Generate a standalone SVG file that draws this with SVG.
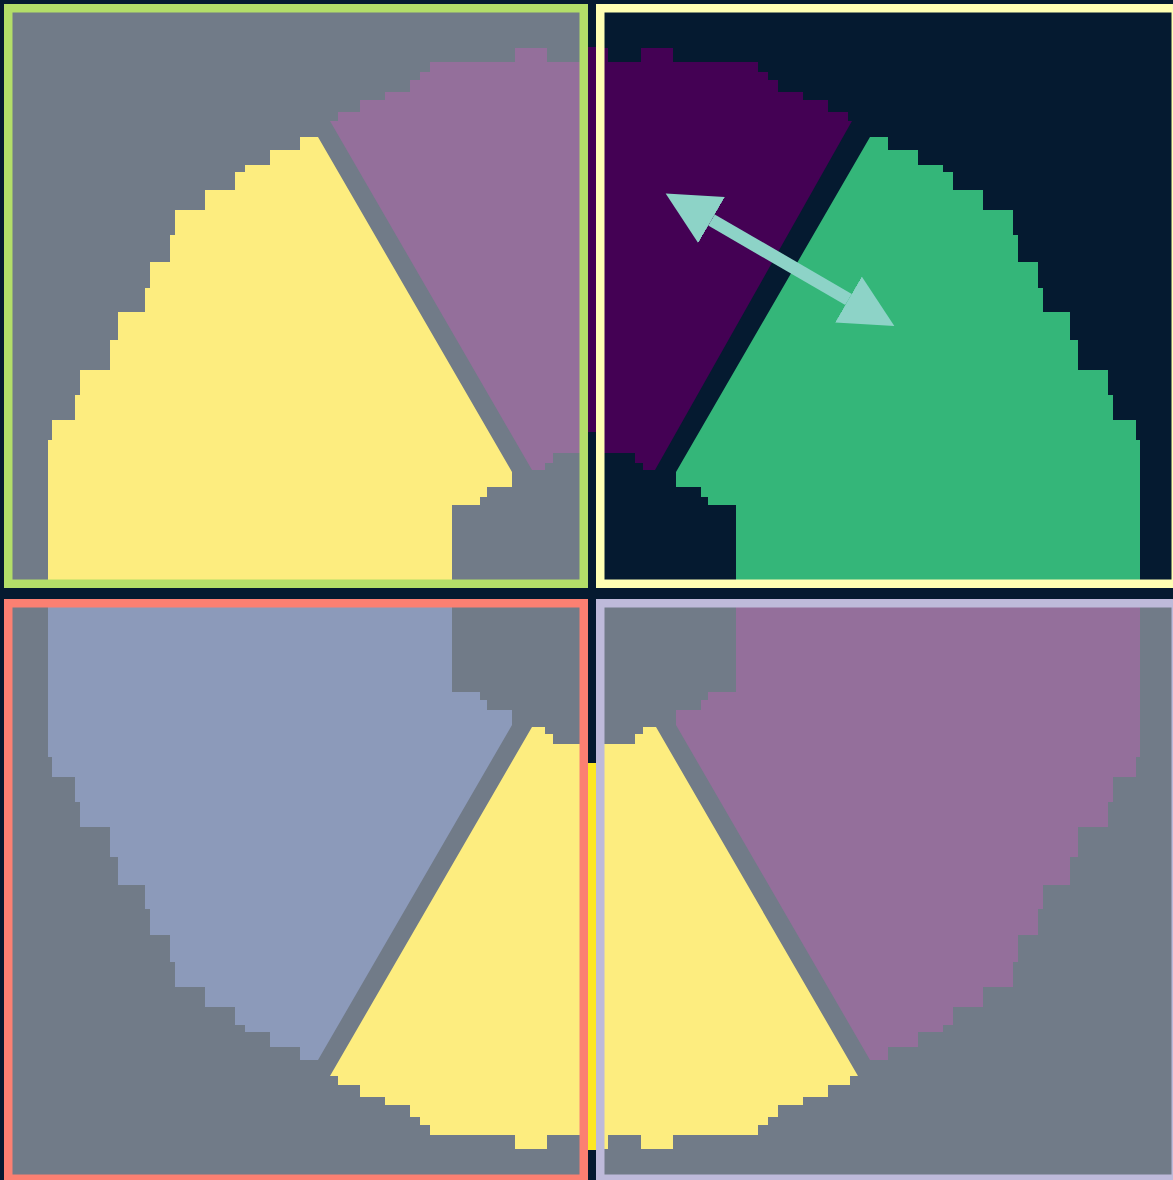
<svg xmlns="http://www.w3.org/2000/svg" width="1173" height="1180" viewBox="0 0 1173 1180">
<defs>
<style>
.frame{fill:none;stroke-width:8.5}
.arrow{stroke:#8dd3c7;stroke-width:13;fill:none}
</style>
<path id="secA" d="M48,612 L48,440 L52,440 L52,420 L75,420 L75,395 L80,395 L80,370 L110,370 L110,340 L118,340 L118,312 L145,312 L145,288 L150,288 L150,262 L170,262 L170,235 L175,235 L175,210 L205,210 L205,190 L235,190 L235,172 L245,172 L245,165 L270,165 L270,150 L300,150 L300,137 L318,137 L512,472 L512,487 L487,487 L487,497 L480,497 L480,505 L452,505 L452,612 Z"/>
<path id="secB" d="M330,121 L338,121 L338,112 L360,112 L360,100 L385,100 L385,92 L410,92 L410,80 L420,80 L420,72 L430,72 L430,62 L515,62 L515,48 L547,48 L547,62 L580,62 L580,48 L620,48 L620,453 L553,453 L553,463 L545,463 L545,470 L532,470 Z"/>
<path id="secB2" d="M336,121 L340,121 L340,112 L360,112 L360,100 L385,100 L385,92 L410,92 L410,80 L420,80 L420,72 L430,72 L430,62 L515,62 L515,48 L547,48 L547,62 L580,62 L580,48 L620,48 L620,453 L553,453 L553,463 L545,463 L545,470 L533,470 Z"/>
<clipPath id="cTL"><rect x="4" y="4" width="584" height="584"/></clipPath>
<clipPath id="cTR"><rect x="596" y="4" width="584" height="584"/></clipPath>
<clipPath id="cBL"><rect x="4" y="599" width="584" height="584"/></clipPath>
<clipPath id="cBR"><rect x="596" y="599" width="584" height="584"/></clipPath>
<marker id="ah" markerUnits="userSpaceOnUse" markerWidth="54" markerHeight="54" refX="0" refY="26.5" orient="auto-start-reverse" viewBox="0 0 54 54"><path d="M0,0 L53,26.5 L0,53 Z" fill="#8dd3c7"/></marker>
</defs>
<rect width="1173" height="1180" fill="#051a30"/>
<g id="center-strip">
<rect x="588" y="47" width="8" height="385" fill="#440154"/>
<rect x="588" y="763" width="8" height="387" fill="#fde725"/>
</g>
<g id="panel-tl" clip-path="url(#cTL)">
<rect x="4" y="4" width="584" height="584" fill="#717b88"/>
<use href="#secA" fill="#fded7f"/>
<use href="#secB" fill="#946f9b"/>
</g>
<g id="panel-tr" clip-path="url(#cTR)">
<rect x="596" y="4" width="584" height="584" fill="#051a30"/>
<use href="#secA" transform="translate(1188,0) scale(-1,1)" fill="#34b679"/>
<use href="#secB2" transform="translate(1188,0) scale(-1,1)" fill="#440154"/>
</g>
<g id="panel-bl" clip-path="url(#cBL)">
<rect x="4" y="599" width="584" height="584" fill="#717b88"/>
<use href="#secA" transform="translate(0,1197) scale(1,-1)" fill="#8c9aba"/>
<use href="#secB" transform="translate(0,1197) scale(1,-1)" fill="#fded7f"/>
</g>
<g id="panel-br" clip-path="url(#cBR)">
<rect x="596" y="599" width="584" height="584" fill="#717b88"/>
<use href="#secA" transform="translate(1188,1197) scale(-1,-1)" fill="#946f9b"/>
<use href="#secB" transform="translate(1188,1197) scale(-1,-1)" fill="#fded7f"/>
</g>
<g id="frames">
<rect id="frame-tl" class="frame" x="8.25" y="8.25" width="575.5" height="575.5" stroke="#b3de69"/>
<rect id="frame-tr" class="frame" x="600.25" y="8.25" width="575.5" height="575.5" stroke="#ffffb3"/>
<rect id="frame-bl" class="frame" x="8.25" y="603.25" width="575.5" height="575.5" stroke="#fb8072"/>
<rect id="frame-br" class="frame" x="600.25" y="603.25" width="575.5" height="575.5" stroke="#bebada"/>
</g>
<g id="connectors">
<line class="arrow" x1="711.5" y1="220" x2="848.5" y2="299.5" marker-start="url(#ah)" marker-end="url(#ah)"/>
</g>
</svg>
